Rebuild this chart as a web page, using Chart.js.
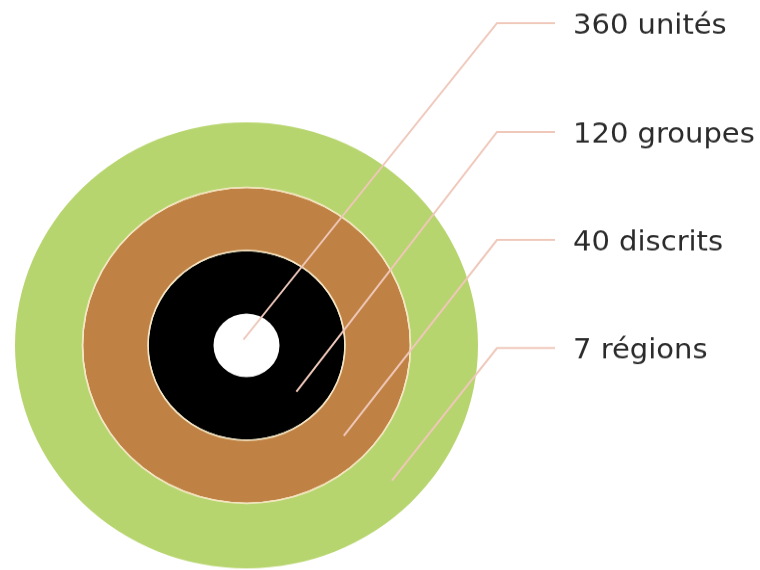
<!DOCTYPE html>
<html>
<head>
<meta charset="utf-8">
<script src="https://cdn.jsdelivr.net/npm/chart.js@4.4.1/dist/chart.umd.min.js"></script>
<style>
  html, body { margin: 0; padding: 0; background: #ffffff; overflow: hidden; }
  #wrap { position: absolute; left: 0; top: 0; width: 760px; height: 592px;
          transform: scaleY(0.9633); transform-origin: 0 0; }
</style>
</head>
<body>
<div id="wrap"><canvas id="c"></canvas></div>
<script>
// ---- data ----
const categories = ['unités', 'groupes', 'discrits', 'régions'];
const values = [360, 120, 40, 7];
// ---- styles (ring order: outer to inner) ----
const ringColors = { 'régions': '#b7d56e', 'discrits': '#c08244', 'groupes': '#000000', 'unités': '#ffffff' };
const ringWeights = { 'régions': 66.75, 'discrits': 64, 'groupes': 64.75, 'unités': 33 };
const separatorColor = '#f6e6bf';
const separatorWeight = 1.5;
const labelY = [23.9, 137.0, 249.1, 361.3];

// build datasets outer -> inner: régions, sep, discrits, sep, groupes, unités
const order = ['régions', 'discrits', 'groupes', 'unités'];
const datasets = [];
const datasetIndexOf = {};
order.forEach((cat, k) => {
  const i = categories.indexOf(cat);
  datasetIndexOf[cat] = datasets.length;
  datasets.push({
    label: values[i] + ' ' + cat,
    data: [values[i]],
    backgroundColor: ringColors[cat],
    weight: ringWeights[cat],
    borderWidth: 0, hoverOffset: 0, offset: 0
  });
  if (k < 2) {
    datasets.push({
      label: 'sep',
      data: [1],
      backgroundColor: separatorColor,
      weight: separatorWeight,
      borderWidth: 0, hoverOffset: 0, offset: 0
    });
  }
});

const leaderPlugin = {
  id: 'leaders',
  afterDatasetsDraw(chart) {
    const ctx = chart.ctx;
    ctx.save();
    categories.forEach((cat, i) => {
      const meta = chart.getDatasetMeta(datasetIndexOf[cat]);
      const arc = meta.data[0];
      const cx = arc.x, cy = arc.y;
      let sx, sy;
      if (arc.innerRadius <= 0.5) {
        sx = cx - 3; sy = cy - 6;
      } else {
        const r = (arc.innerRadius + arc.outerRadius) / 2 + 4;
        const a = 44 * Math.PI / 180;
        sx = cx + r * Math.cos(a);
        sy = cy + r * Math.sin(a);
      }
      const ky = labelY[i];
      ctx.strokeStyle = '#efc8ba';
      ctx.lineWidth = 2;
      ctx.beginPath();
      ctx.moveTo(sx, sy);
      ctx.lineTo(497, ky);
      ctx.lineTo(555, ky);
      ctx.stroke();
      ctx.fillStyle = '#2b2b2b';
      ctx.font = '29px "DejaVu Sans", Verdana, sans-serif';
      ctx.textAlign = 'left';
      ctx.textBaseline = 'alphabetic';
      ctx.fillText(values[i] + ' ' + cat, 573, ky + 10.6);
    });
    ctx.restore();
  }
};

new Chart(document.getElementById('c'), {
  type: 'doughnut',
  data: { labels: [''], datasets: datasets },
  options: {
    responsive: true,
    maintainAspectRatio: false,
    animation: false,
    cutout: 0,
    layout: { padding: { left: 15, right: 282, top: 127, bottom: 2 } },
    plugins: { legend: { display: false }, tooltip: { enabled: false } },
    events: []
  },
  plugins: [leaderPlugin]
});
</script>
</body>
</html>
